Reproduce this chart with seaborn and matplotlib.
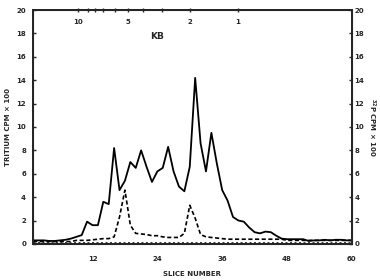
import numpy as np
import pandas as pd
import matplotlib
matplotlib.use("Agg")
import matplotlib.pyplot as plt
import seaborn as sns

slices = list(range(1, 61))
tritium = [0.3, 0.3, 0.3, 0.25, 0.25, 0.3, 0.35, 0.45, 0.6, 0.75,
           1.9, 1.6, 1.6, 3.6, 3.4, 8.2, 4.6, 5.4, 7.0, 6.5,
           8.0, 6.6, 5.3, 6.2, 6.5, 8.3, 6.2, 4.9, 4.5, 6.6,
           14.2, 8.6, 6.2, 9.5, 6.9, 4.6, 3.7, 2.3, 2.0, 1.9,
           1.4, 1.0, 0.9, 1.05, 1.0, 0.7, 0.45, 0.4, 0.4, 0.4,
           0.4, 0.25, 0.3, 0.3, 0.35, 0.3, 0.35, 0.35, 0.3, 0.3]
p32 = [0.2, 0.2, 0.2, 0.2, 0.2, 0.2, 0.2, 0.2, 0.3, 0.3,
       0.3, 0.35, 0.4, 0.45, 0.45, 0.6, 2.3, 4.6, 1.6, 0.9,
       0.85, 0.8, 0.7, 0.7, 0.6, 0.55, 0.55, 0.55, 0.9, 3.3,
       2.2, 0.8, 0.6, 0.55, 0.5, 0.45, 0.4, 0.4, 0.4, 0.4,
       0.4, 0.4, 0.4, 0.4, 0.4, 0.4, 0.4, 0.3, 0.3, 0.3,
       0.3, 0.3, 0.3, 0.3, 0.3, 0.3, 0.3, 0.3, 0.3, 0.3]
baseline = [0.1] * 60

x_ticks = [12, 24, 36, 48, 60]
y_ticks = list(range(0, 21, 2))
kb_values = [10, 9, 8, 7, 6, 5, 4, 3, 2, 1]
kb_slice = [9.4, 11.1, 12.4, 14.0, 16.1, 18.5, 21.4, 24.9, 30.1, 38.9]
kb_labels = {10: "10", 5: "5", 2: "2", 1: "1"}

df = pd.DataFrame({
    "slice": slices * 3,
    "cpm": tritium + p32 + baseline,
    "series": ["tritium"] * 60 + ["p32"] * 60 + ["base"] * 60,
})

sns.set_style("white")
plt.rcParams["font.family"] = ["DejaVu Sans"]
plt.rcParams["font.weight"] = "bold"

fig = plt.figure(figsize=(3.8, 2.8), dpi=100)
ax = fig.add_axes([0.087, 0.129, 0.839, 0.835])

sns.lineplot(data=df[df.series == "tritium"], x="slice", y="cpm", ax=ax,
             color="black", linewidth=1.3)
sns.lineplot(data=df[df.series == "p32"], x="slice", y="cpm", ax=ax,
             color="black", linewidth=1.2, linestyle=(0, (2.5, 1.5)))
sns.lineplot(data=df[df.series == "base"], x="slice", y="cpm", ax=ax,
             color="black", linewidth=1.8, linestyle=(0, (0.8, 1.0)))

ax.set_xlim(1, 60)
ax.set_ylim(0, 20)
ax.set_xticks(x_ticks)
ax.set_yticks(y_ticks)
fs = 5
ax.tick_params(axis="x", direction="in", length=0, pad=9, labelsize=fs)
ax.tick_params(axis="y", direction="in", length=2, width=1, pad=5, labelsize=fs)
for lab in ax.get_xticklabels() + ax.get_yticklabels():
    lab.set_fontweight("bold")
for s in ax.spines.values():
    s.set_linewidth(1.4)
    s.set_color("black")
ax.set_xlabel("SLICE NUMBER", fontsize=fs, fontweight="bold", labelpad=6)
ax.set_ylabel("TRITIUM CPM × 100", fontsize=fs, fontweight="bold", labelpad=4)

ax2 = ax.twinx()
ax2.set_ylim(0, 20)
ax2.set_yticks(y_ticks)
ax2.tick_params(axis="y", direction="in", length=2, width=1, pad=2, labelsize=fs)
for lab in ax2.get_yticklabels():
    lab.set_fontweight("bold")
for s in ax2.spines.values():
    s.set_linewidth(1.4)
ax2.set_ylabel("$^{32}$P CPM × 100", fontsize=fs, fontweight="bold",
               rotation=270, labelpad=9)

ax3 = ax.twiny()
ax3.set_xlim(ax.get_xlim())
ax3.set_xticks(kb_slice)
ax3.set_xticklabels([""] * len(kb_slice))
ax3.tick_params(axis="x", direction="inout", length=3, width=1)
for v, xs in zip(kb_values, kb_slice):
    if v in kb_labels:
        ax3.text(xs, 19.2, kb_labels[v], ha="center", va="top",
                 fontsize=fs, fontweight="bold", transform=ax.transData)
ax.text(24, 17.7, "KB", ha="center", va="center", fontsize=6.5)

fig.savefig("out.png", dpi=100)
